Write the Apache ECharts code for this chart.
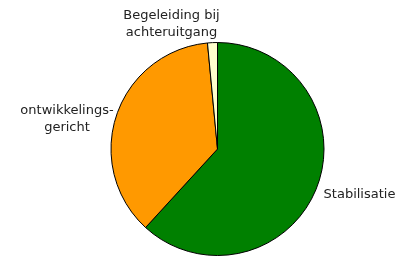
<!DOCTYPE html>
<html>
<head>
<meta charset="utf-8">
<script src="https://cdn.jsdelivr.net/npm/echarts@6/dist/echarts.min.js"></script>
<style>
  html, body { margin: 0; padding: 0; background: #fff; }
  #chart { width: 404px; height: 257px; }
</style>
</head>
<body>
<div id="chart"></div>
<script>
// categories and shares (percent)
const categories = ['Stabilisatie', 'ontwikkelings-\ngericht', 'Begeleiding bij\nachteruitgang'];
const values = [61.8, 36.7, 1.5];
const colors = ['#008000', '#FF9900', '#FFFFCC'];

// where each label sits (centre of the text block)
const labelSpots = [[359.5, 195], [67, 119], [171.5, 24]];

let myChart = echarts.init(document.getElementById('chart'));

myChart.setOption({
    animation: false,
    series: [
        {
            type: 'pie',
            center: [217.5, 149],
            radius: 106.5,
            startAngle: 90,
            clockwise: true,
            avoidLabelOverlap: false,
            itemStyle: {
                borderColor: '#000',
                borderWidth: 1
            },
            label: {
                show: true,
                position: 'outside',
                fontFamily: 'DejaVu Sans',
                fontSize: 13,
                color: '#222',
                lineHeight: 17
            },
            labelLine: {
                show: false
            },
            labelLayout: function (params) {
                let p = labelSpots[params.dataIndex];
                return { x: p[0], y: p[1], align: 'center', verticalAlign: 'middle' };
            },
            data: categories.map(function (name, i) {
                return { name: name, value: values[i], itemStyle: { color: colors[i] } };
            })
        }
    ]
});

window.addEventListener('resize', function () {
    myChart.resize();
});
</script>
</body>
</html>
